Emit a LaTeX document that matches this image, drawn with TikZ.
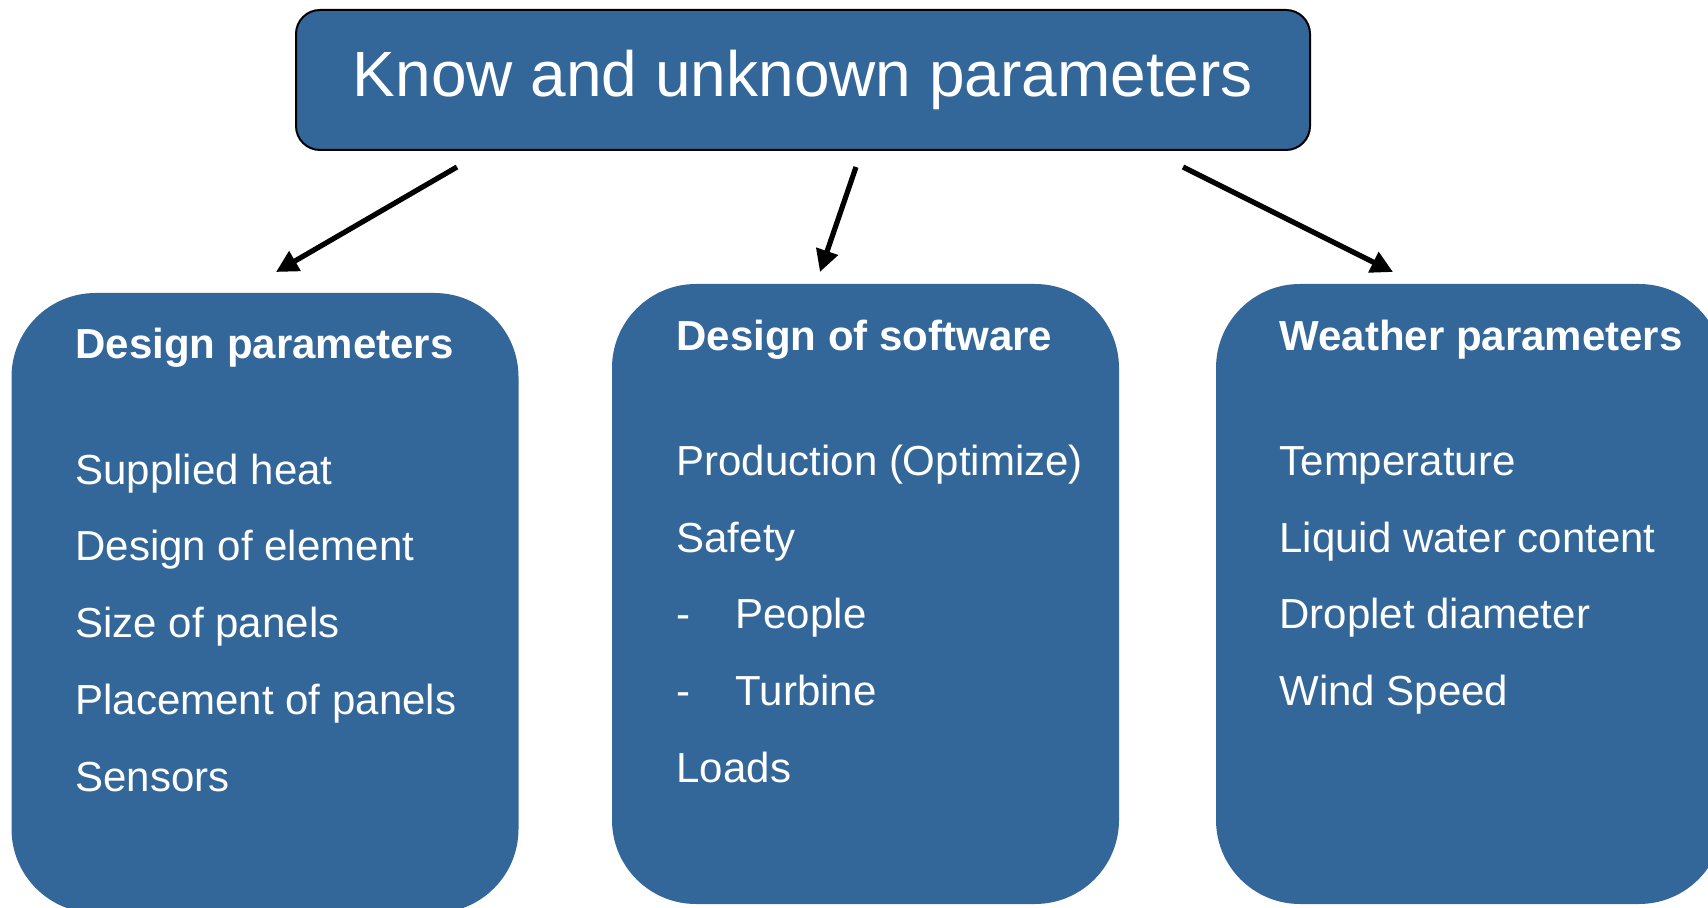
\documentclass[tikz,border=0pt]{standalone}
\usepackage{fontspec}
\setmainfont{Liberation Sans}
\usetikzlibrary{arrows.meta}

\definecolor{paramblue}{RGB}{52,103,153}

\begin{document}
\begin{tikzpicture}[x=0.5pt,y=-0.5pt,>={Triangle[length=11pt,width=11pt]},
                    line width=2.6pt]
  \tikzset{titlebox/.style={draw=black,line width=1pt,fill=paramblue,
             rounded corners=12pt,minimum width=507pt,minimum height=70pt,
             text=white,font=\fontsize{32}{38}\selectfont},
           groupbox/.style={fill=paramblue,rounded corners=42pt,inner sep=0pt,
             minimum width=253.5pt,minimum height=310pt},
           headtext/.style={anchor=base west,inner sep=0pt,text=white,
             font=\bfseries\fontsize{21}{25}\selectfont},
           itemtext/.style={anchor=base west,inner sep=0pt,text=white,
             font=\fontsize{21}{25}\selectfont}}

  \useasboundingbox (0,0) rectangle (1708,908);
  \clip (0,0) rectangle (1708,908);

  \node[titlebox] (known) at (803,80) {Know and unknown parameters};

  \node[groupbox] (design)   at (265,603)    {};
  \node[groupbox] (software) at (865.5,594)  {};
  \node[groupbox] (weather)  at (1469.5,594) {};

  % design parameters
  \node[headtext] (designhead) at (73,359)   {Design parameters};
  \node[itemtext] (heat)       at (73,484.5) {Supplied heat};
  \node[itemtext] (element)    at (73,561)   {Design of element};
  \node[itemtext] (size)       at (73,637.5) {Size of panels};
  \node[itemtext] (placement)  at (73,714)   {Placement of panels};
  \node[itemtext] (sensors)    at (73,791)   {Sensors};

  % software
  \node[headtext] (softhead)   at (674,350.5) {Design of software};
  \node[itemtext] (production) at (674,475.8) {Production (Optimize)};
  \node[itemtext] (safety)     at (674,552.5) {Safety};
  \node[itemtext] (dashA)      at (674,629)   {-};
  \node[itemtext] (people)     at (733,629)   {People};
  \node[itemtext] (dashB)      at (674,705.5) {-};
  \node[itemtext] (turbine)    at (733,705.5) {Turbine};
  \node[itemtext] (loads)      at (674,782)   {Loads};

  % weather
  \node[headtext] (weatherhead) at (1277,350.5) {Weather parameters};
  \node[itemtext] (temp)        at (1277,475.8) {Temperature};
  \node[itemtext] (water)       at (1277,552.5) {Liquid water content};
  \node[itemtext] (droplet)     at (1277,629)   {Droplet diameter};
  \node[itemtext] (wind)        at (1277,705.5) {Wind Speed};

  \coordinate (d0) at (457,167);  \coordinate (d1) at (276,272);
  \coordinate (s0) at (856,167);  \coordinate (s1) at (820,272);
  \coordinate (w0) at (1183,167); \coordinate (w1) at (1393,272);

  \draw[->] (d0) -- (d1);
  \draw[->] (s0) -- (s1);
  \draw[->] (w0) -- (w1);

\end{tikzpicture}
\end{document}
